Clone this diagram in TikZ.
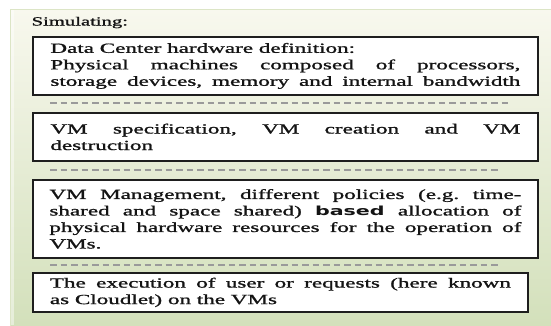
\documentclass[tikz,border=0pt]{standalone}
\usepackage{fontspec}
\setmainfont{Liberation Serif}[FakeBold=1.0]
\newfontfamily\basedfont{DejaVu Sans}
\frenchspacing
\definecolor{panelTop}{HTML}{F8F8EE}
\definecolor{panelBot}{HTML}{D3E0BB}
\definecolor{panelEdge}{HTML}{DCE5C6}
\definecolor{boxEdge}{HTML}{1E1E1E}
\definecolor{sepGray}{HTML}{9A9A9A}
\definecolor{inkText}{HTML}{141414}
% the lettering is set wide: every line is stretched horizontally
\newcommand\widen[1]{\scalebox{1.65}[1]{#1}}
% a full justified line of the given (final) width
\newcommand\jline[2]{\widen{\makebox[\dimexpr #1*100/165\relax][s]{#2}}}
\newcommand\nline[1]{\widen{#1}}
\tikzset{
  stagebox/.style={draw=boxEdge, line width=1.8pt, fill=white, anchor=north west,
    inner sep=0pt, align=left, text=inkText, font=\fontsize{14}{16.5}\selectfont},
  sepline/.style={draw=sepGray, line width=1.1pt, dash pattern=on 6.5pt off 4pt}
}
\begin{document}
\begin{tikzpicture}[x=1pt,y=-1pt]
\useasboundingbox (0,0) rectangle (551,325);
\fill[white] (0,0) rectangle (551,325);
% outer panel
\shade[top color=panelTop, bottom color=panelBot] (10,9) rectangle (551,325);
\draw[panelEdge, line width=1pt] (10.5,330) -- (10.5,9.5) -- (555,9.5);
\fill[white, opacity=0.45] (11,10) rectangle (13.5,325);
% heading
\node[anchor=base west, inner sep=0pt, text=inkText, font=\fontsize{12.5}{14}\selectfont] (head) at (31.5,25.5)
  {\nline{Simulating:}};
% stages
\node[stagebox, minimum width=505pt, minimum height=58pt] (s1) at (32,36)
  {\nline{Data Center hardware definition:}\\
   \jline{470pt}{Physical machines composed of processors,}\\
   \jline{470pt}{storage devices, memory and internal bandwidth}};
\node[stagebox, minimum width=505pt, minimum height=48pt] (s2) at (32,112)
  {\jline{470pt}{VM specification, VM creation and VM}\\
   \nline{destruction}};
\node[stagebox, minimum width=505pt, minimum height=78pt] (s3) at (32,179)
  {\jline{472pt}{VM Management, different policies (e.g. time-}\\
   \jline{472pt}{shared and space shared) {\basedfont\bfseries\fontsize{12.5}{16.5}\selectfont based} allocation of}\\
   \jline{472pt}{physical hardware resources for the operation of}\\
   \nline{VMs.}};
\node[stagebox, minimum width=495pt, minimum height=39pt] (s4) at (32,272)
  {\jline{461pt}{The execution of user or requests (here known}\\
   \nline{as Cloudlet) on the VMs}};
% dashed separators
\coordinate (d1a) at (50,103); \coordinate (d1b) at (510,103);
\coordinate (d2a) at (50,170); \coordinate (d2b) at (500,170);
\coordinate (d3a) at (50,265); \coordinate (d3b) at (500,265);
\draw[sepline] (d1a) -- (d1b);
\draw[sepline] (d2a) -- (d2b);
\draw[sepline] (d3a) -- (d3b);
\end{tikzpicture}
\end{document}
